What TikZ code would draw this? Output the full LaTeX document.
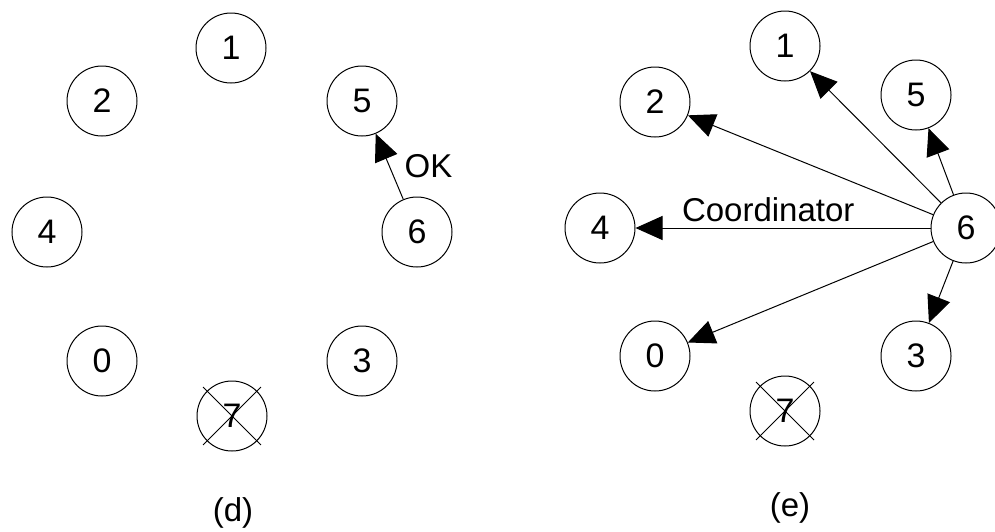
\documentclass[tikz,border=0pt]{standalone}
\usepackage{fontspec}
\setmainfont{Liberation Sans}
\usetikzlibrary{arrows.meta}

\tikzset{
  proc/.style={draw, circle, minimum size=35pt, inner sep=0pt, line width=0.5pt, font=\fontsize{17}{19}\selectfont},
  msg/.style={line width=0.5pt, -{Triangle[length=13.5pt,width=12pt]}},
  caption/.style={font=\fontsize{16.5}{18}\selectfont}
}

\begin{document}
\begin{tikzpicture}[x=0.5pt, y=-0.5pt]
                \useasboundingbox (0,0) rectangle (995,531);

                \node[proc] (d1) at (231,48) {1};
                \node[proc] (d2) at (102,101) {2};
                \node[proc] (d5) at (362,101) {5};
                \node[proc] (d4) at (47,232) {4};
                \node[proc] (d6) at (417,232) {6};
                \node[proc] (d0) at (102,361) {0};
                \node[proc] (d3) at (362,361) {3};
                \node[proc] (d7) at (232,416) {7};
                \draw[line width=0.5pt] ([shift={(45:20.5pt)}]d7.center) -- ([shift={(225:20.5pt)}]d7.center);
                \draw[line width=0.5pt] ([shift={(135:20.5pt)}]d7.center) -- ([shift={(315:20.5pt)}]d7.center);
                \draw[msg] (d6) -- (d5) node[midway, right=4pt, caption] {OK};
                \node[caption] (capd) at (233,513) {(d)};

                \node[proc] (e1) at (785,46) {1};
                \node[proc] (e2) at (655,102) {2};
                \node[proc] (e5) at (916,95) {5};
                \node[proc] (e4) at (600,228) {4};
                \node[proc] (e6) at (966,228) {6};
                \node[proc] (e0) at (655,356) {0};
                \node[proc] (e3) at (916,356) {3};
                \node[proc] (e7) at (785,411) {7};
                \draw[line width=0.5pt] ([shift={(45:20.5pt)}]e7.center) -- ([shift={(225:20.5pt)}]e7.center);
                \draw[line width=0.5pt] ([shift={(135:20.5pt)}]e7.center) -- ([shift={(315:20.5pt)}]e7.center);
                \draw[msg] (e6) -- (e1);
                \draw[msg] (e6) -- (e2);
                \draw[msg] (e6) -- (e5);
                \draw[msg] (e6) -- (e4) node[pos=0.55, above, inner sep=3pt, caption] {Coordinator};
                \draw[msg] (e6) -- (e0);
                \draw[msg] (e6) -- (e3);
                \node[caption] (cape) at (790,508) {(e)};
\end{tikzpicture}
\end{document}
